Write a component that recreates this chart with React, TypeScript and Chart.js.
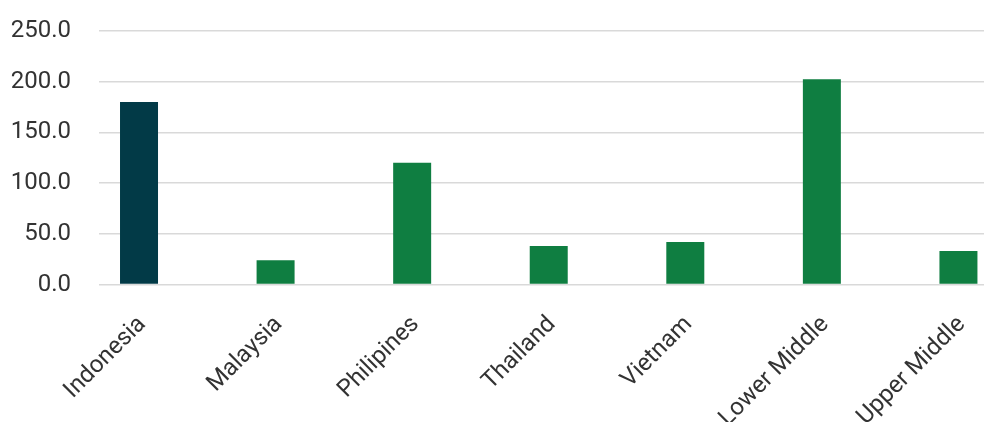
import React, { useEffect, useRef } from 'react';
import { Chart, registerables } from 'chart.js';

Chart.register(...registerables);

const categories = ['Indonesia', 'Malaysia', 'Philipines', 'Thailand', 'Vietnam', 'Lower Middle', 'Upper Middle'];
const values = [180, 24, 120, 38, 42, 202.5, 33];
const spacerValues = [null, null, null, null, null, null, null];
const barColors = ['#023A47', '#0F7E41', '#0F7E41', '#0F7E41', '#0F7E41', '#0F7E41', '#0F7E41'];
const yMin = 0;
const yMax = 250;
const yStep = 50;

export default function App() {
  const ref = useRef<HTMLCanvasElement | null>(null);

  useEffect(() => {
    if (!ref.current) return;
    const chart = new Chart(ref.current, {
      type: 'bar',
      data: {
        labels: categories,
        datasets: [
          {
            data: values,
            backgroundColor: barColors,
            borderWidth: 0,
            categoryPercentage: 0.828,
            barPercentage: 0.672,
          },
          {
            data: spacerValues as any,
            backgroundColor: 'rgba(0,0,0,0)',
            borderWidth: 0,
            categoryPercentage: 0.828,
            barPercentage: 0.672,
          },
        ],
      },
      options: {
        responsive: false,
        animation: false,
        layout: { padding: { top: 31, left: 0, right: 0, bottom: 0 } },
        plugins: {
          legend: { display: false },
          tooltip: { enabled: false },
        },
        scales: {
          x: {
            offset: true,
            grid: { display: false, drawTicks: false },
            border: { display: false },
            ticks: {
              minRotation: 45,
              maxRotation: 45,
              autoSkip: false,
              labelOffset: -25,
              padding: 26,
              color: '#333333',
              font: { family: 'Roboto', size: 24 },
            },
            afterFit: (scale: any) => {
              scale.height = 137.5;
              scale.paddingLeft = 0;
              scale.paddingRight = 0;
            },
          },
          y: {
            min: yMin,
            max: yMax,
            grid: { color: '#d9d9d9', lineWidth: 1.5, drawTicks: false },
            border: { display: false },
            ticks: {
              stepSize: yStep,
              padding: 28,
              color: '#333333',
              font: { family: 'Roboto', size: 24 },
              callback: (v: any) => Number(v).toFixed(1),
            },
            afterFit: (scale: any) => {
              scale.width = 99;
              scale.paddingTop = 0;
              scale.paddingBottom = 0;
            },
          },
        },
      },
    });
    return () => chart.destroy();
  }, []);

  return (
    <div style={{ position: 'fixed', left: 0, top: 0, width: 984, height: 422, overflow: 'hidden', background: '#ffffff' }}>
      <canvas ref={ref} width={1055} height={422} style={{ display: 'block' }} />
    </div>
  );
}
